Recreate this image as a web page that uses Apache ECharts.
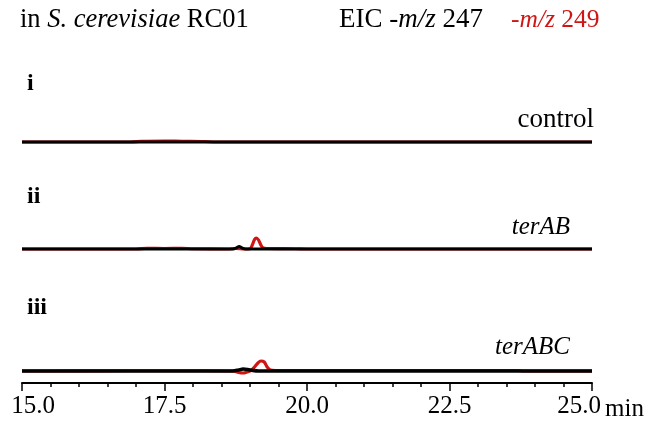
<!DOCTYPE html>
<html><head><meta charset="utf-8">
<script src="https://cdn.jsdelivr.net/npm/echarts@6/dist/echarts.min.js"></script>
<style>html,body{margin:0;padding:0;background:#fff}#c{width:648px;height:424px}</style>
</head><body><div id="c"></div>
<script>
// Retention time axis (min)
const xMin = 15, xMax = 25, xInterval = 2.5;
const xTickLabels = ['15.0','17.5','20.0','22.5','25.0'];
const sampleNames = ['control','terAB','terABC'];
const panelNumerals = ['i','ii','iii'];
// EIC traces: [time(min), relative intensity]
const eic247_i = [[15,0],[25,0]];
const eic249_i = [[15,0],[16.9,0],[17.1,1.5],[17.5,2],[17.8,1.5],[18.2,1],[18.4,0],[25,0]];
const eic247_ii = [[15,0],[18.7,0],[18.76,2],[18.81,5],[18.86,2],[18.92,0],[25,0]];
const eic249_ii = [[15,0],[17.0,0],[17.2,1.5],[17.5,1],[17.8,1.5],[18.0,0.5],[18.6,0],[18.75,1],[18.9,0],[19.0,0.5],[19.04,8],[19.08,19],[19.11,22],[19.15,18],[19.19,8],[19.23,2],[19.3,1],[19.8,0.5],[20.0,0],[25,0]];
const eic247_iii = [[15,0],[18.7,0],[18.8,2],[18.88,4],[18.96,3],[19.05,1],[19.15,0],[25,0]];
const eic249_iii = [[15,0],[16.9,0.5],[17.5,0.5],[18.2,0.5],[18.7,0],[18.8,-3],[18.88,-4],[18.95,-2],[19.02,1],[19.08,8],[19.14,16],[19.19,20],[19.25,18],[19.3,8],[19.36,2],[19.5,1],[20.5,1],[22.5,1],[23.7,1],[23.8,0],[25,0]];

const black = [eic247_i, eic247_ii, eic247_iii];
const red = [eic249_i, eic249_ii, eic249_iii];
const SERIF = "'Liberation Serif','Times New Roman',serif";
const gridTops = [92, 199, 321];
const grids = gridTops.map(t => ({left: 22, right: 56, top: t, height: 62}));
const lab = {fontSize: 25, color: '#000', fontFamily: SERIF};
const xAxes = gridTops.map((t, i) => ({
  type: 'value', gridIndex: i, min: xMin, max: xMax, interval: xInterval,
  show: i === 2,
  axisLine: {show: true, onZero: false, lineStyle: {color: '#000', width: 2}},
  axisTick: {show: true, inside: false, length: 8, lineStyle: {color: '#000', width: 1.5}},
  minorTick: {show: true, splitNumber: 5, length: 4, lineStyle: {color: '#000', width: 1.5}},
  splitLine: {show: false},
  axisLabel: Object.assign({margin: 11,
    rich: {first: Object.assign({padding: [0, 0, 0, 22]}, lab), last: Object.assign({padding: [0, 26, 0, 0]}, lab), n: lab},
    formatter: v => {
      const k = Math.round((v - xMin) / xInterval);
      const s = xTickLabels[k];
      if (k === 0) return '{first|' + s + '}';
      if (k === xTickLabels.length - 1) return '{last|' + s + '}';
      return '{n|' + s + '}';
    }}, lab)
}));
const yAxes = gridTops.map((t, i) => ({type: 'value', gridIndex: i, min: -24, max: 100, show: false}));
const series = [];
for (let i = 0; i < 3; i++) {
  series.push({type: 'line', xAxisIndex: i, yAxisIndex: i, data: red[i], showSymbol: false, smooth: 0.3,
    lineStyle: {color: '#d01515', width: 3.2}, z: 2, animation: false, silent: true});
  series.push({type: 'line', xAxisIndex: i, yAxisIndex: i, data: black[i], showSymbol: false, smooth: 0.3,
    lineStyle: {color: '#000', width: i === 2 ? 3.5 : 3}, z: 3, animation: false, silent: true});
}
const txt = (x, y, text, extra) => ({type: 'text', x, y, style: Object.assign({text, fontFamily: SERIF, fontSize: 26, fill: '#000', verticalAlign: 'middle'}, extra || {})});
const rt = (col, fs) => ({a: {fontFamily: SERIF, fontSize: fs, fill: col}, b: {fontFamily: SERIF, fontSize: fs, fontStyle: 'italic', fill: col}});
const graphic = [
  {type: 'text', x: 20, y: 20, style: {text: '{a|in }{b|S. cerevisiae}{a| RC01}', verticalAlign: 'middle', rich: rt('#000', 26.5)}},
  {type: 'text', x: 339, y: 20, style: {text: '{a|EIC -}{b|m/z}{a| 247}', verticalAlign: 'middle', rich: rt('#000', 27)}},
  {type: 'text', x: 511, y: 20, style: {text: '{a|-}{b|m/z}{a| 249}', verticalAlign: 'middle', rich: rt('#d01515', 25.5)}},
  txt(27, 84, panelNumerals[0], {fontWeight: 'bold', fontSize: 24}),
  txt(27, 197, panelNumerals[1], {fontWeight: 'bold', fontSize: 24}),
  txt(27, 308, panelNumerals[2], {fontWeight: 'bold', fontSize: 24}),
  txt(594, 120, sampleNames[0], {align: 'right', fontSize: 27}),
  txt(570, 227, sampleNames[1], {align: 'right', fontStyle: 'italic', fontSize: 25}),
  txt(570, 347, sampleNames[2], {align: 'right', fontStyle: 'italic', fontSize: 25}),
  txt(605, 409, 'min', {fontSize: 25})
];
const chart = echarts.init(document.getElementById('c'), null, {renderer: 'canvas'});
chart.setOption({animation: false, grid: grids, xAxis: xAxes, yAxis: yAxes, series, graphic});
</script></body></html>
